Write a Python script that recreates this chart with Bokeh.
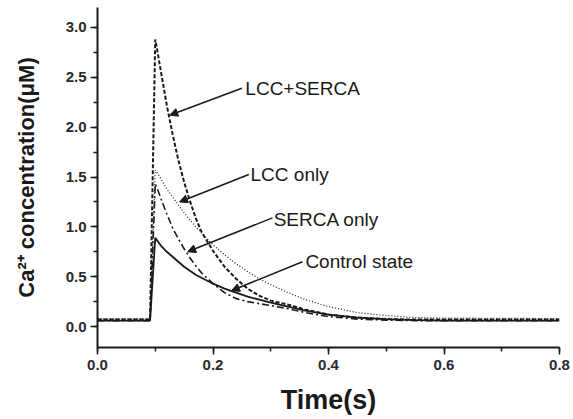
from bokeh.plotting import figure
from bokeh.models import Range1d, Arrow, NormalHead, PrintfTickFormatter, SingleIntervalTicker
from bokeh.core.properties import value
from bokeh.embed import file_html
from bokeh.resources import INLINE

# ---- data ----
time_s = [0.0, 0.091, 0.1, 0.105, 0.11, 0.12, 0.13, 0.14, 0.15, 0.16, 0.17, 0.18,
          0.2, 0.22, 0.24, 0.26, 0.28, 0.3, 0.33, 0.36, 0.4, 0.45, 0.5, 0.55, 0.6, 0.8]

lcc_serca = [0.07, 0.07, 2.88, 2.72, 2.55, 2.22, 1.93, 1.67, 1.45, 1.26, 1.09, 0.95,
             0.76, 0.60, 0.48, 0.38, 0.31, 0.26, 0.22, 0.17, 0.12, 0.09, 0.075, 0.07, 0.07, 0.07]
lcc_only = [0.08, 0.08, 1.57, 1.53, 1.48, 1.38, 1.30, 1.22, 1.14, 1.07, 1.00, 0.94,
            0.82, 0.72, 0.63, 0.55, 0.48, 0.42, 0.34, 0.27, 0.20, 0.14, 0.11, 0.09, 0.085, 0.08]
serca_only = [0.06, 0.06, 1.43, 1.36, 1.28, 1.13, 0.99, 0.88, 0.78, 0.69, 0.61, 0.54,
              0.43, 0.34, 0.28, 0.25, 0.23, 0.21, 0.18, 0.14, 0.10, 0.075, 0.065, 0.06, 0.06, 0.06]
control = [0.06, 0.06, 0.89, 0.85, 0.81, 0.75, 0.70, 0.65, 0.60, 0.56, 0.52, 0.49,
           0.43, 0.38, 0.34, 0.30, 0.27, 0.24, 0.20, 0.16, 0.12, 0.09, 0.075, 0.065, 0.06, 0.06]

labels = ["LCC+SERCA", "LCC only", "SERCA only", "Control state"]

# annotation placement (data coordinates)
label_x = [0.256, 0.265, 0.305, 0.360]
label_y = [2.39, 1.53, 1.07, 0.65]
arrow_x0 = [0.250, 0.262, 0.303, 0.355]
arrow_y0 = [2.39, 1.525, 1.09, 0.65]
arrow_x1 = [0.125, 0.142, 0.156, 0.232]
arrow_y1 = [2.12, 1.25, 0.75, 0.36]

FONT = "Liberation Sans"
INK = "#1a1a1a"

p = figure(width=573, height=419, output_backend="svg", toolbar_location=None,
           x_range=Range1d(0, 0.8), y_range=Range1d(-0.21, 3.2),
           min_border_left=97, min_border_right=14, min_border_top=7, min_border_bottom=72)
p.outline_line_color = None
p.xgrid.visible = False
p.ygrid.visible = False
p.background_fill_color = "white"
p.border_fill_color = "white"

p.line(time_s, lcc_serca, line_color=INK, line_width=2, line_dash="4 2")
p.line(time_s, lcc_only, line_color=INK, line_width=1.2, line_dash="1 2")
p.line(time_s, serca_only, line_color=INK, line_width=1.6, line_dash="7 3 2 3")
p.line(time_s, control, line_color=INK, line_width=1.8)

for i, lab in enumerate(labels):
    p.add_layout(Arrow(end=NormalHead(size=8, fill_color=INK, line_color=INK, line_width=1),
                       x_start=arrow_x0[i], y_start=arrow_y0[i],
                       x_end=arrow_x1[i], y_end=arrow_y1[i],
                       line_color=INK, line_width=1.6))

p.text(x=label_x, y=label_y, text=labels, text_font=value(FONT), text_font_size="19px",
       text_align="left", text_baseline="middle", text_color=INK)

for ax in (p.xaxis[0], p.yaxis[0]):
    ax.axis_line_width = 2
    ax.axis_line_color = INK
    ax.major_tick_line_color = INK
    ax.minor_tick_line_color = INK
    ax.major_tick_line_width = 1.5
    ax.minor_tick_line_width = 1.5
    ax.major_tick_in = 0
    ax.major_tick_out = 7
    ax.minor_tick_in = 0
    ax.minor_tick_out = 4
    ax.major_label_text_font = FONT
    ax.major_label_text_font_style = "bold"
    ax.major_label_text_font_size = "15px"
    ax.major_label_text_color = "#2a2a2a"
    ax.axis_label_text_font = FONT
    ax.axis_label_text_font_style = "bold"
    ax.axis_label_text_color = INK
    ax.formatter = PrintfTickFormatter(format="%.1f")

p.xaxis[0].ticker = SingleIntervalTicker(interval=0.2, num_minor_ticks=2)
p.yaxis[0].ticker = SingleIntervalTicker(interval=0.5, num_minor_ticks=2)
p.xaxis[0].major_label_standoff = 5
p.yaxis[0].major_label_standoff = 4
p.xaxis[0].axis_label = "Time(s)"
p.xaxis[0].axis_label_text_font_size = "27px"
p.xaxis[0].axis_label_standoff = 12
p.yaxis[0].axis_label = "Ca²⁺ concentration(μM)"
p.yaxis[0].axis_label_text_font_size = "22px"
p.yaxis[0].axis_label_standoff = 24

open("out.html", "w").write(file_html(p, INLINE))
